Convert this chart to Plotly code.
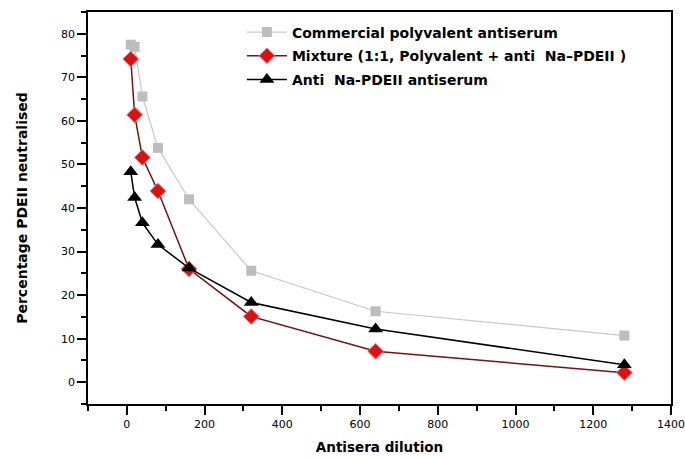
import plotly.graph_objects as go

dilution = [10, 20, 40, 80, 160, 320, 640, 1280]
commercial = [77.5, 77.0, 65.6, 53.8, 42.0, 25.6, 16.3, 10.7]
mixture = [74.2, 61.4, 51.6, 43.9, 26.0, 15.1, 7.1, 2.2]
anti_na = [48.3, 42.4, 36.6, 31.6, 26.2, 18.3, 12.2, 4.0]

names = ["Commercial polyvalent antiserum",
         "Mixture (1:1, Polyvalent + anti  Na\u2013PDEII )",
         "Anti  Na-PDEII antiserum"]

FONT = "DejaVu Sans"

fig = go.Figure()
fig.add_trace(go.Scatter(
    x=dilution, y=commercial, name=names[0], mode="lines+markers", legendgroup="a",
    line=dict(color="#c8c8c8", width=1.2),
    marker=dict(symbol="square", size=10, color="#bdbdbd",
                line=dict(color="#bdbdbd", width=0))))
fig.add_trace(go.Scatter(
    x=dilution, y=mixture, name=names[1], mode="lines+markers", legendgroup="b",
    line=dict(color="#7a1010", width=1.5),
    marker=dict(symbol="diamond", size=12, color="#e01010",
                line=dict(color="#f07070", width=1))))
fig.add_trace(go.Scatter(
    x=dilution, y=anti_na, name=names[2], mode="lines+markers", legendgroup="c",
    line=dict(color="#000000", width=1.5),
    marker=dict(symbol="triangle-up", size=13, color="#000000")))

axis_common = dict(
    showgrid=False, zeroline=False, showline=True, linecolor="black",
    linewidth=1.5, mirror=True, ticks="outside", ticklen=9, tickwidth=1.5,
    tickcolor="black", tickfont=dict(family=FONT, size=11, color="black"),
    automargin=False, ticklabeloverflow="allow",
)

fig.update_xaxes(
    **axis_common, range=[-100, 1400], tickvals=[0, 200, 400, 600, 800, 1000, 1200, 1400],
    minor=dict(ticks="outside", ticklen=5, tickwidth=1.5, tickcolor="black", dtick=100, tick0=0),
    title=dict(text="<b>Antisera dilution</b>", font=dict(family=FONT, size=13.5, color="black"),
               standoff=13),
    tickprefix="<b>", ticksuffix="</b>",
)
fig.update_yaxes(
    **axis_common, range=[-5, 85], tickvals=[0, 10, 20, 30, 40, 50, 60, 70, 80],
    minor=dict(ticks="outside", ticklen=5, tickwidth=1.5, tickcolor="black", dtick=5, tick0=0),
    title=dict(text="<b>Percentage PDEII neutralised</b>", font=dict(family=FONT, size=14, color="black"),
               standoff=30),
    tickprefix="<b>", ticksuffix="</b>",
)

fig.update_layout(
    width=685, height=459,
    margin=dict(l=88, r=14, t=12, b=55, autoexpand=False),
    paper_bgcolor="white", plot_bgcolor="white",
    font=dict(family=FONT, color="black"),
    legend=dict(x=0.264, y=0.9885, xanchor="left", yanchor="top",
                bgcolor="rgba(0,0,0,0)", borderwidth=0,
                font=dict(family=FONT, size=14, color="black"),
                tracegroupgap=2.5, itemwidth=40),
    showlegend=True,
)
for tr in fig.data:
    tr.name = "<b>" + tr.name + "</b>"

fig.write_html("out.html", config={"displayModeBar": False},
               post_script="document.body.style.margin='0';document.body.style.overflow='hidden';")
